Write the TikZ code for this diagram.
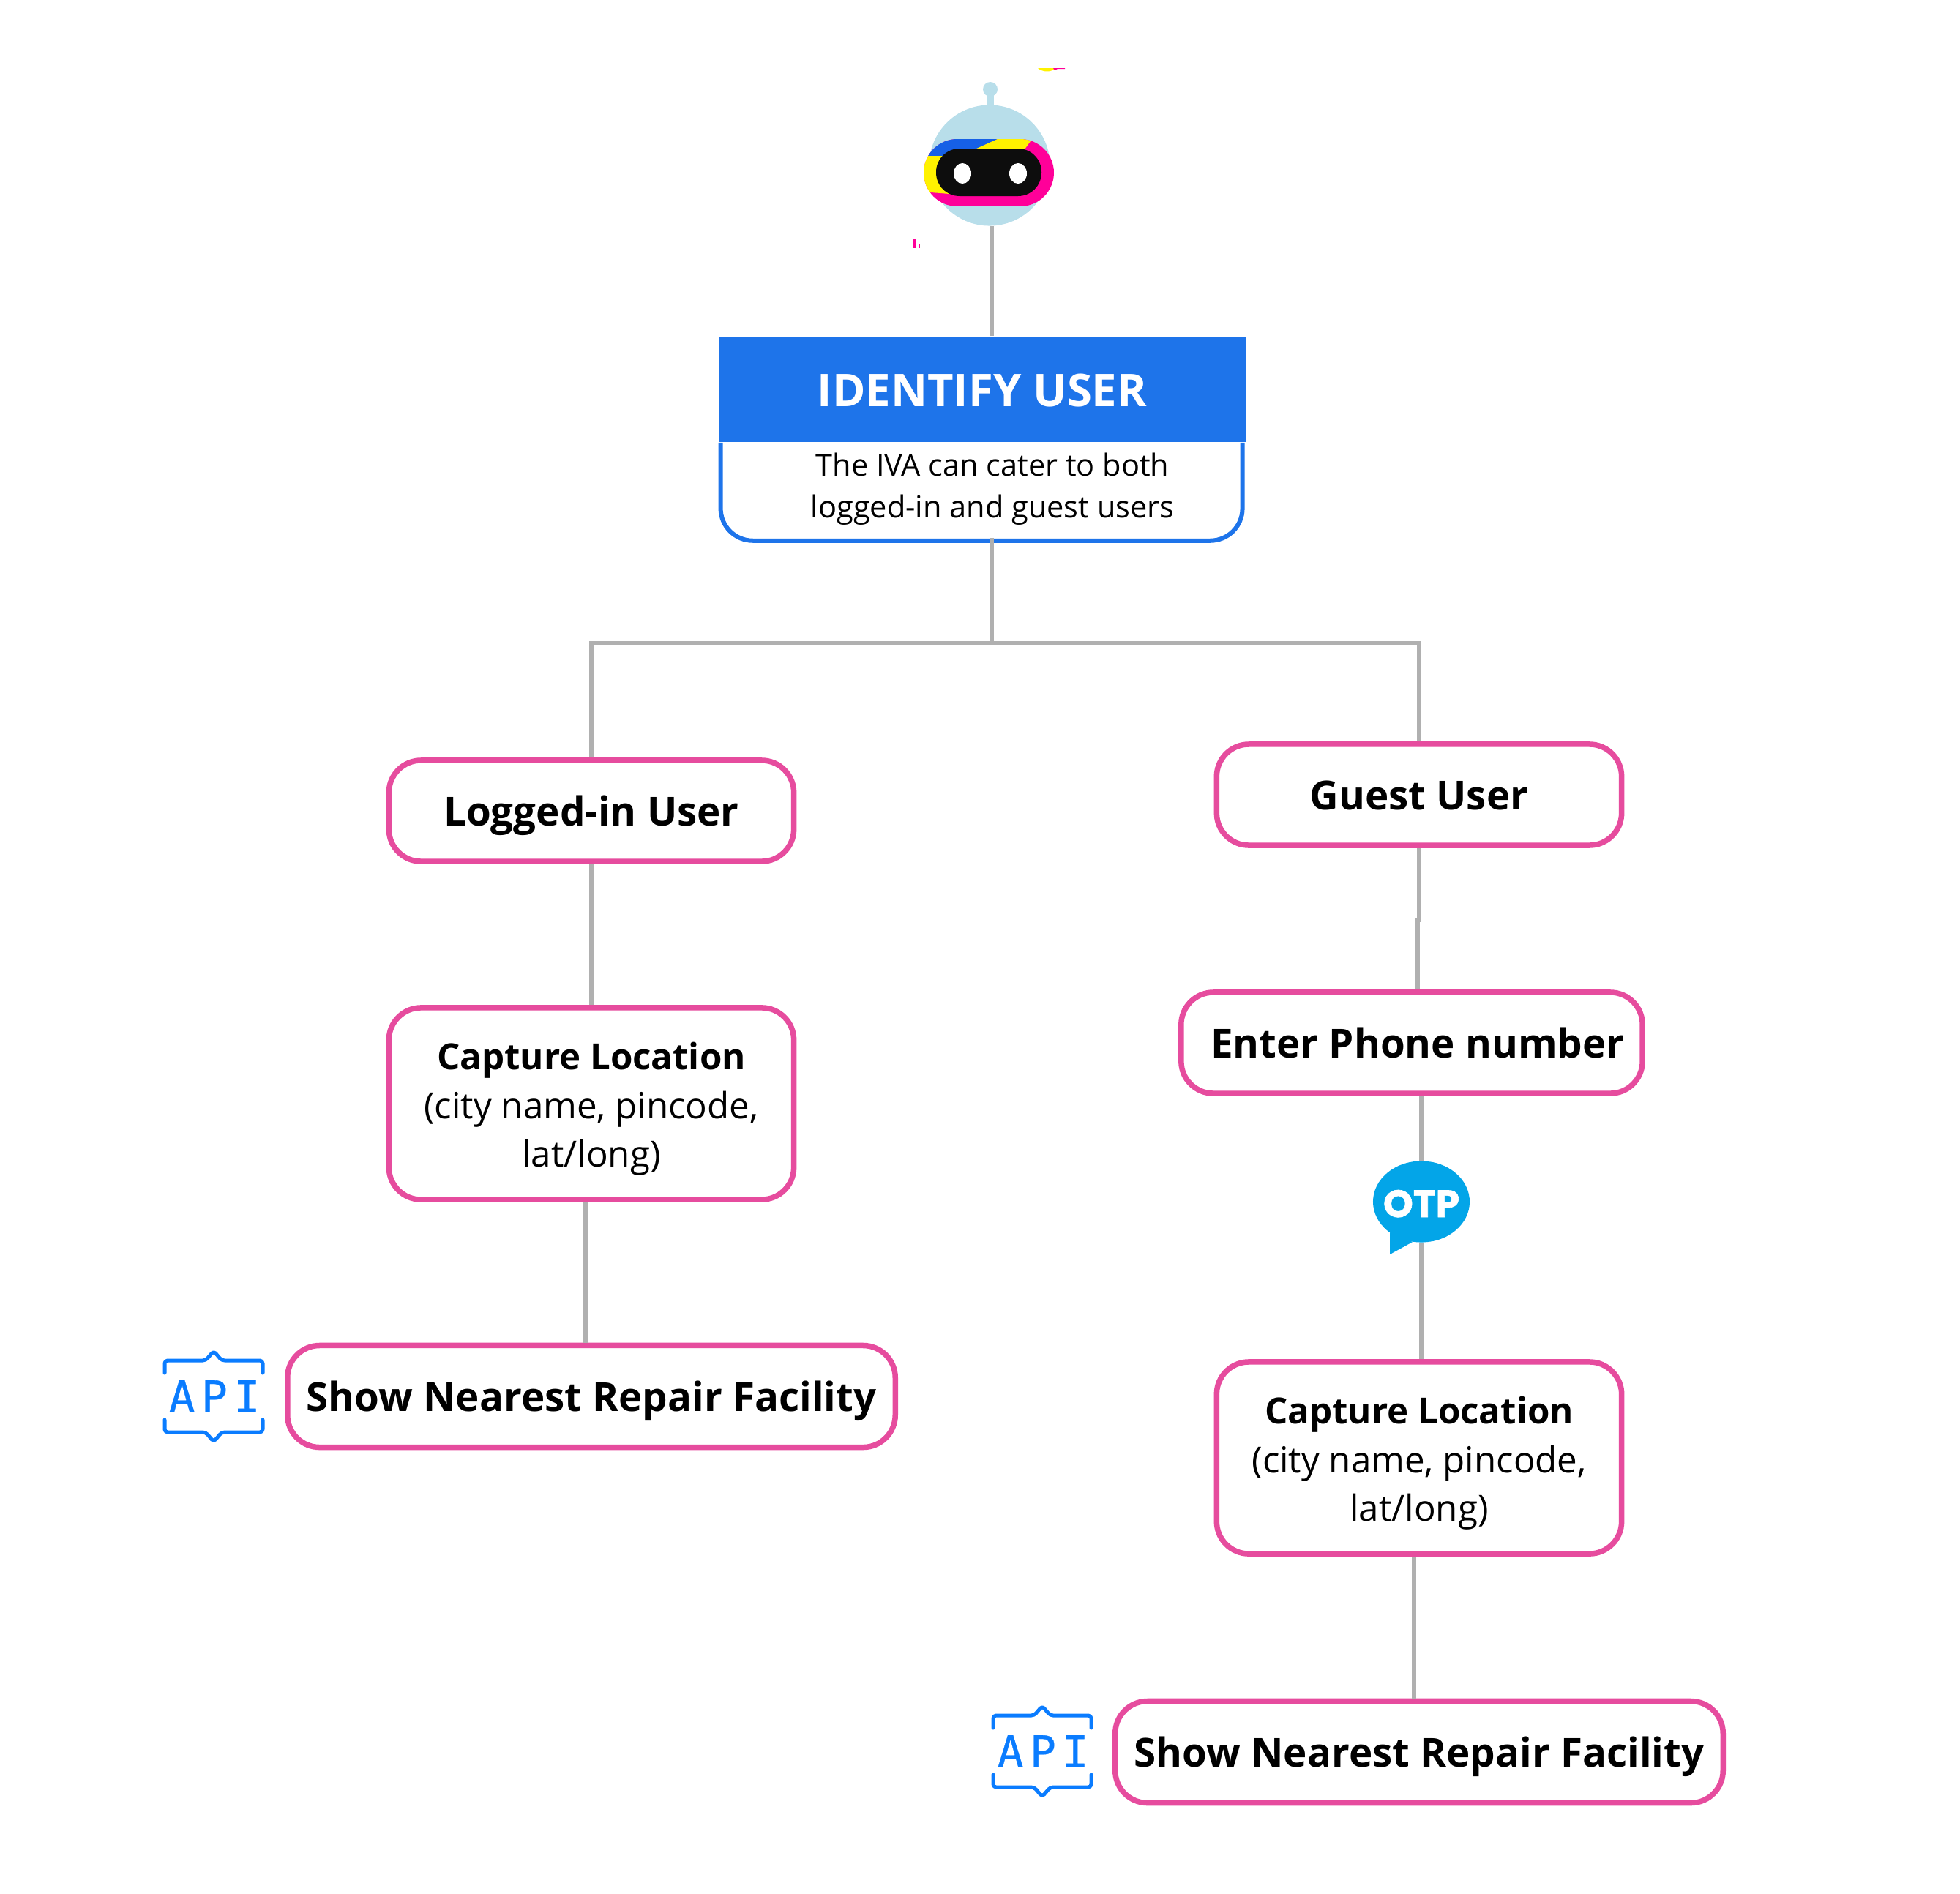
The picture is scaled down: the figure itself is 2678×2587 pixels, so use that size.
\documentclass[tikz,border=0pt]{standalone}
\usepackage{fontspec}
\setmainfont{Open Sans}
\newfontfamily\otpfont[BoldFeatures={FakeBold=1.2}]{Poppins}
\newfontfamily\apifont[LetterSpace=14,FakeBold=0.5]{DejaVu Sans Mono}
\usetikzlibrary{shapes.geometric}
\definecolor{linegray}{HTML}{B0B0B0}
\definecolor{boxpink}{HTML}{E64C9E}
\definecolor{headblue}{HTML}{1E74EA}
\definecolor{apiblue}{HTML}{0A7CFF}
\definecolor{otpblue}{HTML}{03A5E8}
\definecolor{robothead}{HTML}{B8DEEA}
\definecolor{bandpink}{HTML}{FF0099}
\definecolor{bandblue}{HTML}{1660E6}
\def\locstrut{\rule{0pt}{0.52cm}}
\tikzset{
    pinkbox/.style={draw=boxpink, line width=0.075cm, rounded corners=0.44cm, fill=white, inner sep=0pt, align=center},
    linkline/.style={draw=linegray, line width=0.065cm},
    boldtext/.style={font=\bfseries\fontsize{15.55}{20}\selectfont, text height=0.4cm, text depth=0cm},
    loctext/.style={font=\fontsize{14}{19}\selectfont},
    apiicon/.pic={
        \draw[draw=apiblue, line width=0.05cm, line cap=round, line join=round, rounded corners=0.04cm]
            (-67,-32) -- (-67,-49) -- (-11,-49) -- (0,-62) -- (11,-49) -- (67,-49) -- (67,-32);
        \draw[draw=apiblue, line width=0.05cm, line cap=round, line join=round, rounded corners=0.04cm]
            (-67,32) -- (-67,49) -- (-11,49) -- (0,62) -- (11,49) -- (67,49) -- (67,32);
        \node[text=apiblue, inner sep=0pt, font=\apifont\fontsize{17}{18}\selectfont] (apitext) at (1,0) {API};
    }
}
\begin{document}
\begin{tikzpicture}[x=0.01cm,y=-0.01cm]
    \useasboundingbox (0,0) rectangle (2678,2587);

    % Draw the robot
    \node[circle, fill=robothead, minimum size=1.65cm, inner sep=0pt] (robot) at (1352,226) {};
    \fill[robothead] (1348,122) rectangle (1358,150);
    \fill[robothead] (1353,122) circle (10);
    \begin{scope}
        \clip[rounded corners=0.46cm] (1262,190) rectangle (1440,282);
        \fill[bandpink] (1262,190) rectangle (1440,282);
        \fill[bandblue] (1255,213) -- (1255,180) -- (1363,180) -- (1363,190) -- (1332,204) -- (1300,213) -- cycle;
        \fill[yellow] (1363,185) -- (1363,190) -- (1332,204) -- (1400,204) -- (1408,193) -- (1408,185) -- cycle;
        \fill[yellow] (1255,213) -- (1300,213) -- (1300,265) -- (1297,265) -- (1272,263) -- (1255,263) -- cycle;
    \end{scope}
    \fill[black!95, rounded corners=0.32cm] (1279,203) rectangle (1423,268);
    \fill[white] (1315,237) ellipse (12 and 14);
    \fill[white] (1391,237) ellipse (12 and 14);
    \fill[yellow] (1418,93) .. controls (1425,99) and (1436,99) .. (1443,93) -- cycle;
    \fill[bandpink] (1439,93) -- (1455,93) -- (1455,94) -- (1445,94) -- (1441,96) -- cycle;
    \fill[bandpink] (1248,327) rectangle (1251,339);
    \fill[bandpink] (1255,333) rectangle (1257,339);

    % Draw the identify box
    \node[fill=headblue, text=white, font=\bfseries\fontsize{17.5}{21}\selectfont, text height=0.47cm, text depth=0cm, minimum width=7.19cm, minimum height=1.44cm, inner sep=0pt] (idhead) at (1342,532) {IDENTIFY USER};
    \node[anchor=north, minimum width=7.09cm, minimum height=1.33cm, inner sep=0pt, align=center, font=\fontsize{11.8}{16}\selectfont] (idbody) at (1356,601) {The IVA can cater to both\\logged-in and guest users};
    \draw[draw=headblue, line width=0.06cm, rounded corners=0.44cm] (idhead.south west) ++(3,0) -- ++(0,134) -- ++(713,0) -- ++(0,-134);

    % Draw the left branch
    \node[pinkbox, boldtext, minimum width=5.53cm, minimum height=1.38cm] (logged) at (808,1108) {Logged-in User};
    \node[pinkbox, loctext, minimum width=5.53cm, minimum height=2.62cm] (capl) at (808,1508) {\locstrut\textbf{Capture Location}\\(city name, pincode,\\lat/long)};
    \node[pinkbox, boldtext, minimum width=8.30cm, minimum height=1.39cm] (showl) at (808,1908) {Show Nearest Repair Facility};
    \pic at (292,1908) {apiicon};

    % Draw the right branch
    \node[pinkbox, boldtext, minimum width=5.53cm, minimum height=1.38cm] (guest) at (1939,1086) {Guest User};
    \node[pinkbox, boldtext, minimum width=6.30cm, minimum height=1.38cm] (enter) at (1929,1425) {\hspace*{0.16cm}Enter Phone number};
    \node[pinkbox, loctext, minimum width=5.53cm, minimum height=2.62cm] (capr) at (1939,1992) {\locstrut\textbf{Capture Location}\\(city name, pincode,\\lat/long)};
    \node[pinkbox, boldtext, minimum width=8.30cm, minimum height=1.39cm] (showr) at (1939,2394) {Show Nearest Repair Facility};
    \pic at (1424,2393) {apiicon};

    % Draw the OTP bubble
    \fill[otpblue] (1899,1684) -- (1899,1714) -- (1930,1697) -- cycle;
    \node[ellipse, fill=otpblue, text=white, text height=0.42cm, text depth=0cm, minimum width=1.32cm, minimum height=1.11cm, inner sep=0pt, font=\otpfont\bfseries\fontsize{14.8}{16}\selectfont] (otp) at (1942,1642) {\makebox[0pt]{OTP}};

    % Draw the connectors
    \coordinate (jct) at (1355,879);
    \coordinate (gjog) at (1939,1257);
    \draw[linkline] ([xshift=0.03cm]robot.south) -- ([xshift=0.03cm]robot.south |- idhead.north);
    \draw[linkline] (jct |- idbody.south) -- (jct);
    \draw[linkline] (jct) -| (logged.north);
    \draw[linkline] (jct) -| (guest.north);
    \draw[linkline] (logged.south) -- (capl.north);
    \draw[linkline] ([xshift=-0.08cm]capl.south) -- ([xshift=-0.08cm]capl.south |- showl.north);
    \draw[linkline] (guest.south) -- (gjog) -- ([xshift=-0.02cm]gjog) -- ([xshift=-0.02cm]gjog |- enter.north);
    \draw[linkline] (otp |- enter.south) -- (otp.north);
    \draw[linkline] (otp.south) -- (otp |- capr.north);
    \draw[linkline] ([xshift=-0.07cm]capr.south) -- ([xshift=-0.07cm]capr.south |- showr.north);
\end{tikzpicture}
\end{document}
